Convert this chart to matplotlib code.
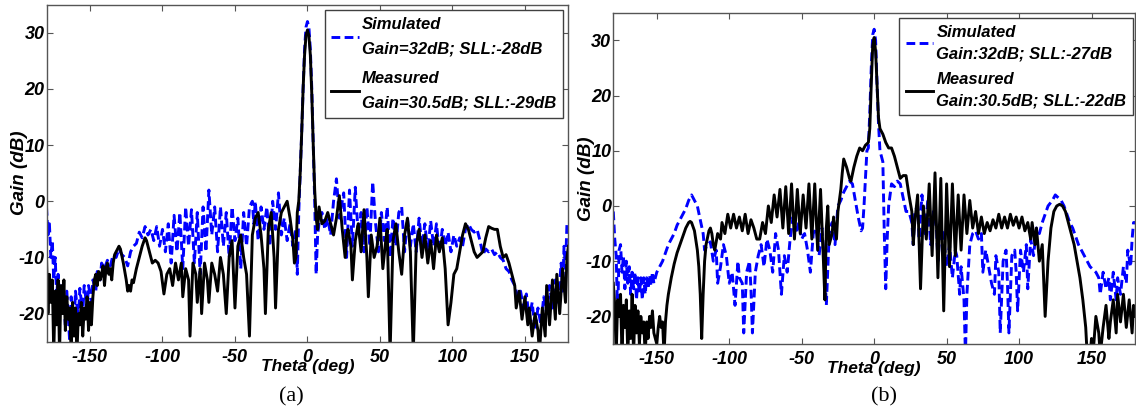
import numpy as np
import matplotlib
matplotlib.use('Agg')
import matplotlib.pyplot as plt

# ---------------- panel (a) ----------------
a_sim_theta = [-180, -179, -178, -177, -176, -175, -174, -173, -172, -170, -169, -167, -166, -164, -163, -161, -160, -158, -157, -155,
               -154, -152, -151, -149, -148, -146, -145, -143, -142, -140, -138, -136, -134, -132, -130, -128, -126, -124, -122, -120,
               -118, -116, -114, -112, -110, -108, -106, -104, -102, -100, -98, -96, -94, -92, -90, -88, -86, -84, -82, -80,
               -78, -76, -74, -72, -70, -68, -66, -64, -62, -60, -58, -56, -54, -52, -50, -48, -46, -44, -42, -40,
               -38, -37, -36, -34, -32, -30, -28, -26, -24, -22, -20, -18, -16, -14, -12, -10, -8, -7, -6, -5,
               -4, -3, -2, -1, 0, 1, 2, 3, 4, 5, 6, 7, 8, 10, 12, 14, 16, 18, 20, 22,
               24, 25, 27, 29, 31, 33, 35, 37, 39, 41, 43, 45, 47, 49, 51, 53, 55, 57, 59, 61,
               63, 65, 67, 69, 71, 73, 75, 77, 79, 81, 83, 85, 87, 89, 91, 93, 95, 97, 99, 101,
               103, 105, 107, 109, 111, 113, 115, 117, 119, 121, 123, 125, 127, 129, 131, 133, 135, 137, 139, 141,
               143, 145, 147, 149, 151, 153, 155, 157, 159, 161, 163, 165, 167, 169, 171, 173, 175, 176, 177, 178,
               179, 180]
a_sim_gain = [-1, -6, -4, -10, -7, -14, -10, -17, -13, -20, -15, -22, -16, -25, -17, -22, -16, -21, -15.5, -20,
              -15, -19, -15, -18, -14, -16, -12.5, -14, -11, -12, -10.5, -11.5, -9.5, -10, -8.5, -9.5, -10, -11.5, -9, -8,
              -7.5, -5.5, -6.5, -4.5, -6, -5, -7, -4.5, -8, -5, -9, -4, -11, -2.5, -9, -2, -12, -1, -8, -1.5,
              -11, -2, -13, -1, -9, 2, -6, -1, -9, -1, -8, -2, -10, -1, -7, -3, -12, -2, -8, -1,
              0, -4, 0, -7, -1, -5, -1, -8, 0, -5, 1.5, -6, -3, -7, -4, -8, -5, -13, -2, 5,
              12, 20, 27, 31, 32, 31, 27, 20, 10, 0, -13, -6, -4, -2, -5, -3, -6, 0, 4, -3,
              0, 1.5, -10, 2, -8, 2.5, -6, -2, -9, -1, -8, 3.5, -4, -9, -2, -7, -1, -10, -3, -8,
              -2, -1, -9, -3, -8, -4, -9, -3, -8, -4, -9, -3.5, -8, -4, -9, -5, -8, -5.5, -9, -6,
              -8, -6.5, -8, -5, -4, -5, -5.5, -5, -7, -9.5, -8.5, -9, -8.5, -9.5, -9, -10, -10.5, -12, -12.5, -14,
              -15, -17, -16, -19, -16.5, -21, -18, -23, -19, -22, -17, -20, -15, -19, -14, -18, -11, -16, -8, -12,
              -4, -4]

a_meas_theta = [-180, -179, -178, -177, -176, -175, -174, -173, -172, -171, -170, -169, -168, -167, -166, -165, -164, -163, -162, -161,
                -160, -159, -158, -157, -156, -155, -154, -153, -152, -151, -150, -149, -148, -147, -146, -145, -144, -143, -142, -141,
                -140, -139, -138, -137, -136, -135, -134, -133, -131, -130, -129, -127, -125, -124, -123, -122, -121, -120, -118, -116,
                -114, -112, -111, -109, -107, -105, -103, -101, -99, -97, -95, -93, -91, -89, -87, -86, -84, -82, -81, -79,
                -77, -76, -74, -73, -71, -69, -68, -66, -64, -62, -60, -58, -56, -54, -52, -50, -48, -46, -44, -42,
                -40, -38, -36, -34, -32, -30, -29, -27, -25, -23, -22, -20, -18, -16, -14, -12, -10, -9, -8, -7,
                -6, -5, -4, -3, -2, -1, 0, 1, 2, 3, 4, 5, 6, 7, 8, 10, 12, 14, 16, 18,
                20, 22, 24, 26, 27, 28, 30, 31, 33, 35, 37, 39, 41, 42, 44, 46, 48, 50, 52, 54,
                55, 57, 59, 61, 63, 65, 67, 69, 71, 73, 75, 77, 79, 81, 83, 85, 87, 89, 91, 93,
                95, 97, 99, 101, 103, 105, 107, 109, 111, 113, 115, 117, 119, 121, 123, 125, 127, 129, 131, 133,
                135, 137, 139, 141, 143, 144, 146, 148, 150, 152, 153, 155, 157, 159, 160, 162, 164, 165, 167, 169,
                171, 172, 174, 176, 178, 179, 180]
a_meas_gain = [-10, -20, -13, -18, -14, -27, -16, -22, -14, -27, -15, -20, -14, -23, -17, -21, -19, -27, -18, -24,
               -19, -27, -20, -22, -18, -24, -19, -21, -17, -23, -18, -22, -17, -14, -13, -15, -12.5, -14, -13, -11.5,
               -15, -12, -11, -13, -12, -14, -11, -9.5, -8.5, -8, -8.5, -11, -14, -16, -15, -16, -14, -14.5, -12, -10,
               -8, -6.5, -7, -9, -11, -10.5, -11, -12.5, -16.5, -13, -12, -15, -11, -14, -11, -17, -12, -14, -24, -11,
               -13, -18, -12, -20, -11, -14, -18, -11, -13, -16, -10, -13, -20, -10, -7, -19, -8, -6, -10, -13,
               -24, -6, -3, -2, -6, -12, -20, -5, -2, -10, -19, -5, -2, -1, 0, -3, -7, -11, -10, -2,
               0, 5, 12, 20, 26, 29.5, 30.5, 29.5, 26, 19, 10, 2, -3, -5, -1, -4, -3.5, -2, -4, -6,
               -3, 1, -5, -10, -6, -5, -8, -14, -7, -4, -9, -1.5, -10, -17, -6, -10, -8, -3, -12, -7,
               -5, -27, -7, -4, -9, -13, -6, -3, -9, -27, -8, -5, -10, -6, -11, -7, -12, -6, -9, -6.5,
               -12, -22, -18, -13, -12, -9, -6, -4, -5, -7, -9, -10, -9.5, -9, -6.5, -4.5, -4.8, -5, -5, -8,
               -10, -9.5, -11, -13, -15, -19, -16, -21, -17, -22, -19, -24, -20, -23, -27, -19, -24, -15, -22, -14,
               -21, -13, -20, -12, -18, -10, -8]

# ---------------- panel (b) ----------------
b_sim_theta = [-180, -179, -178, -177, -176, -175, -174, -173, -172, -171, -170, -169, -168, -167, -166, -165, -164, -163, -162, -161,
               -160, -159, -158, -157, -156, -155, -154, -153, -152, -150, -148, -146, -144, -142, -140, -138, -136, -134, -132, -130,
               -128, -126, -124, -122, -120, -118, -117, -115, -113, -111, -109, -108, -106, -104, -102, -100, -98, -96, -94, -93,
               -91, -90, -88, -86, -85, -84, -82, -80, -78, -76, -74, -72, -70, -68, -66, -64, -62, -60, -58, -56,
               -54, -52, -50, -48, -46, -44, -42, -40, -38, -36, -34, -33, -31, -29, -27, -25, -23, -21, -19, -17,
               -15, -13, -11, -9, -8, -7, -6, -5, -4, -3, -2, -1, 0, 1, 2, 3, 4, 5, 6, 7,
               8, 9, 10, 12, 14, 16, 18, 20, 22, 24, 26, 27, 28, 30, 31, 33, 35, 37, 39, 41,
               43, 44, 46, 48, 50, 52, 54, 56, 57, 59, 60, 62, 63, 64, 66, 68, 70, 72, 74, 75,
               77, 79, 81, 83, 84, 86, 87, 89, 91, 92, 93, 95, 97, 98, 99, 101, 103, 105, 106, 108,
               110, 112, 114, 116, 118, 120, 123, 125, 127, 129, 131, 133, 135, 137, 139, 141, 143, 145, 147, 149,
               151, 153, 155, 156, 158, 160, 162, 163, 165, 167, 168, 170, 172, 174, 175, 177, 178, 179, 180]
b_sim_gain = [-1, -6, -9, -20, -8, -7, -12, -9, -15, -10, -14, -11, -16, -12, -15, -12, -17, -13, -16, -13,
              -17, -13, -16, -13, -15, -12.5, -14.5, -12, -14, -12, -11, -10, -8.5, -7, -6, -5, -3.5, -2.5, -1.5, -0.5,
              1, 2, 1, 0, -2.5, -5, -8, -7, -6.5, -10, -8, -14, -11, -7, -9, -14, -12, -18, -10, -13,
              -14, -23, -12, -10, -15, -23, -12, -9, -7, -11, -6, -8, -12, -5, -8, -16, -9, -12, -6, -2,
              -5, -3, -6, -5, -8, -12, -5, -4, -9, -4, -12, -18, -5, -3, -7, 0, 1, 2.5, 3.5, 4.5,
              4, 1, -2, -4.5, -4, 0, 5, 10, 10.5, 17, 25, 31, 32, 30, 22, 15, 10, 9, 8, -5,
              -15, -6, 0, 4, 3.5, 4.5, 4, 1.5, -1, -1, -3, -7, -1, 0, -6, 2, -5, 1, -7, -1,
              -4, -10, -3, -6, -11, -7, -13, -8, -9, -16, -11, -17, -27, -16, -7, -5, -4.5, -6, -5, -12,
              -8, -11, -14, -16, -9, -12, -23, -10, -8, -14, -23, -9, -8, -12, -19, -8, -12, -7, -15, -6,
              -9, -4, -5, -3, -1.5, 0, 1, 2, 1.5, 1, 0, -1.5, -3, -4, -5.5, -7, -8, -9, -10, -11,
              -11.5, -12, -13, -16, -12, -15, -13, -17, -12, -17, -13, -16, -11, -14, -8, -11, -6, -3, -3]

b_meas_theta = [-180, -179, -178, -177, -176, -175, -174, -173, -172, -171, -170, -169, -168, -167, -166, -165, -164, -163, -162, -161,
                -160, -159, -158, -157, -156, -155, -154, -153, -152, -150, -149, -148, -147, -146, -145, -144, -143, -142, -140, -138,
                -136, -134, -132, -130, -128, -127, -126, -124, -122, -121, -120, -119, -118, -117, -116, -114, -113, -112, -111, -110,
                -108, -106, -105, -103, -101, -99, -97, -95, -93, -91, -89, -87, -85, -83, -81, -79, -77, -75, -73, -71,
                -69, -67, -65, -63, -61, -59, -57, -55, -53, -51, -49, -47, -45, -43, -41, -39, -37, -35, -34, -33,
                -32, -31, -29, -28, -26, -25, -23, -22, -21, -19, -17, -16, -14, -12, -10, -8, -6, -4, -3, -2,
                -1, 0, 1, 2, 3, 4, 6, 8, 10, 12, 14, 16, 18, 20, 22, 24, 26, 27, 28, 30,
                32, 34, 36, 38, 40, 42, 44, 46, 48, 50, 52, 54, 56, 58, 60, 62, 64, 66, 68, 70,
                72, 74, 76, 78, 80, 82, 84, 86, 88, 90, 92, 94, 96, 98, 100, 102, 104, 106, 108, 109,
                111, 112, 114, 116, 118, 120, 122, 124, 126, 128, 130, 132, 134, 136, 138, 140, 142, 144, 146, 147,
                149, 150, 151, 153, 155, 156, 158, 160, 162, 163, 165, 167, 168, 170, 172, 174, 176, 178, 179, 180]
b_meas_gain = [-14, -18, -27, -17, -20, -16, -27, -18, -22, -17, -27, -19, -24, -16, -27, -18, -23, -19, -25, -20,
               -23, -21, -27, -21, -24, -20, -22, -19, -23, -25, -22, -20, -22, -21, -27, -21, -18, -16, -13, -10.5,
               -8.5, -7, -5.5, -4, -3, -2.8, -3, -4.5, -8, -11, -16, -24, -16, -10, -7, -4.5, -4, -5, -7, -8,
               -5, -6, -3, -5, -1.5, -4, -1.5, -4, -2, -4.5, -1.5, -5, -2.5, -4, -6, -6, -3, -5, 0, -3,
               2, -2, 3, -4, 3.5, -5, 4, -6, 3, -5, 2, -4, 4, -6, 4, -8, 3, -10, -17, -4,
               0, -7, -5, -2, -6, -1, 3, 6, 8.5, 7, 5, 4.5, 7, 9, 10.5, 10, 11, 11.5, 14, 22,
               29, 30.5, 28, 22, 16, 14, 13, 11.5, 10.5, 10.5, 9, 7, 5, 5.5, 5.5, 2, -1, -7, -3, 2,
               -15, 0, -6, 4, -9, 6, -13, 5, -19, 4, -11, 4, -9, 2, -8, 2, -5, 1, -4, -1,
               -5, -2, -5, -3, -4.5, -2.5, -4, -1.5, -4, -2, -4, -1.5, -3.5, -2, -4, -2, -4.5, -3, -6, -3,
               -7, -4, -10, -7, -20, -10, -4, -1, 0, 0.3, 0, -1, -3, -5, -7, -10, -13, -17, -22, -27,
               -27, -24, -27, -20, -23, -27, -22, -18, -24, -21, -17, -23, -16, -21, -16, -22, -17, -23, -18, -20]

sim_labels = ['Simulated\nGain=32dB; SLL:-28dB', 'Simulated\nGain:32dB; SLL:-27dB']
meas_labels = ['Measured\nGain=30.5dB; SLL:-29dB', 'Measured\nGain:30.5dB; SLL:-22dB']
captions = ['(a)', '(b)']

plt.rcParams['font.family'] = 'Liberation Sans'
plt.rcParams['font.weight'] = 'bold'
plt.rcParams['font.style'] = 'italic'
plt.rcParams['axes.unicode_minus'] = False

W, H = 1136, 413
fig = plt.figure(figsize=(W / 100, H / 100), dpi=100)

# axes boxes in pixels: left, top, right, bottom
boxes = [(46.5, 4.7, 568.4, 341.7), (613.3, 12.7, 1135, 344)]
legend_anchor = [(0.9897, 0.984), (0.9962, 0.984)]
caption_x = [291, 884]
spacing = [(1.8, 0.9), (1.55, 0.65)]
bold_it = dict(family='Liberation Sans', weight='bold', style='italic')

data = [(a_sim_theta, a_sim_gain, a_meas_theta, a_meas_gain),
        (b_sim_theta, b_sim_gain, b_meas_theta, b_meas_gain)]

for i, (st, sg, mt, mg) in enumerate(data):
    l, t, r, b = boxes[i]
    ax = fig.add_axes([l / W, 1 - b / H, (r - l) / W, (b - t) / H])
    ax.plot(st, sg, color='#0000ff', lw=2.1, ls='--', dashes=(3.0, 1.5), label=sim_labels[i])
    ax.plot(mt, mg, color='black', lw=2.1, label=meas_labels[i])
    ax.set_xlim(-180, 180)
    ax.set_ylim(-25, 35)
    ax.set_xticks([-150, -100, -50, 0, 50, 100, 150])
    ax.set_yticks([-20, -10, 0, 10, 20, 30])
    ax.tick_params(direction='in', top=True, right=True, length=4, width=0.8,
                   color='#555555', labelsize=13)
    ax.tick_params(axis='x', pad=5)
    ax.tick_params(axis='y', pad=1.5)
    for lab in ax.get_xticklabels() + ax.get_yticklabels():
        lab.set_fontweight('bold')
        lab.set_fontstyle('italic')
    for s in ax.spines.values():
        s.set_color('#555555')
        s.set_linewidth(1)
    ax.set_ylabel('Gain (dB)', fontsize=13.5, **bold_it)
    ax.yaxis.label.set_verticalalignment('center')
    ax.yaxis.set_label_coords(-0.052, 0.5)
    ax.set_xlabel('Theta (deg)', fontsize=12.5, **bold_it)
    ax.xaxis.set_label_coords(0.5, -0.052)

    ls, lbs = spacing[i]
    leg = ax.legend(loc='upper right', bbox_to_anchor=legend_anchor[i], borderaxespad=0,
                    prop=dict(size=12, **bold_it), fancybox=False, framealpha=1,
                    edgecolor='#404040', handlelength=1.65, handletextpad=0.2,
                    borderpad=0.4, labelspacing=lbs)
    leg.get_frame().set_linewidth(1)
    for txt in leg.get_texts():
        txt.set_linespacing(ls)

    fig.text(caption_x[i] / W, 1 - 397 / H, captions[i], family='Liberation Serif',
             weight='normal', style='normal', fontsize=16, ha='center', va='center')

fig.savefig('out.png', dpi=100)
